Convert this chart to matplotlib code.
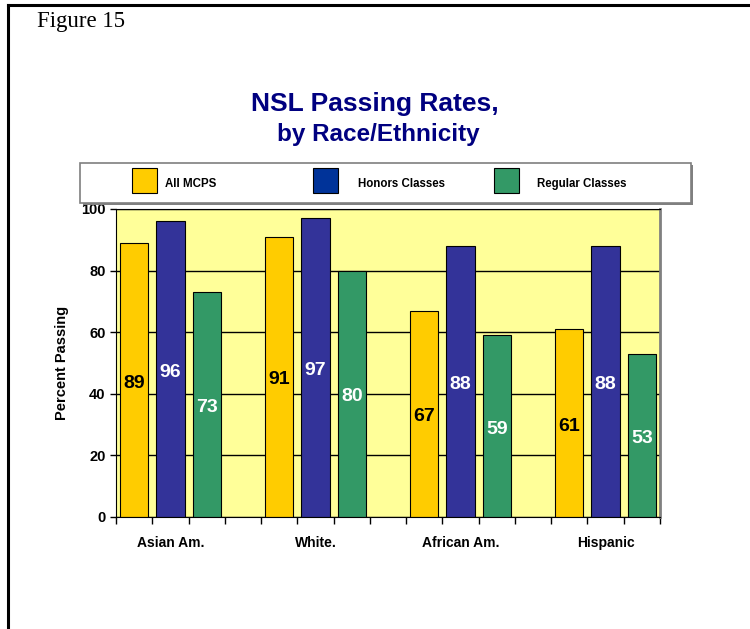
import numpy as np
import matplotlib
matplotlib.use("Agg")
import matplotlib.pyplot as plt
from matplotlib.patches import Rectangle
from matplotlib.lines import Line2D

groups = ["Asian Am.", "White.", "African Am.", "Hispanic"]
series = ["All MCPS", "Honors Classes", "Regular Classes"]
all_mcps = [89, 91, 67, 61]
honors = [96, 97, 88, 88]
regular = [73, 80, 59, 53]

bar_colors = ["#FFCC00", "#333399", "#339966"]
legend_colors = ["#FFCC00", "#003399", "#339966"]
label_colors = ["black", "white", "white"]

W, H = 750, 629
plt.rcParams['font.family'] = ['Liberation Sans', 'DejaVu Sans']
fig = plt.figure(figsize=(W / 100, H / 100), dpi=100)

def fx(px):
    return px / W

def fy(py):
    return 1 - py / H

# outer frame lines (left and top)
fig.add_artist(Line2D([fx(8), fx(8)], [0, fy(5)], color="black", lw=2.2))
fig.add_artist(Line2D([fx(8), 1], [fy(5), fy(5)], color="black", lw=2.2))
fig.text(fx(37), fy(22), "Figure 15", family="Liberation Serif", fontsize=16.5,
         va="center", ha="left")

# titles
fig.text(fx(375), fy(104), "NSL Passing Rates,", fontsize=19, weight="bold",
         color="#000080", ha="center", va="center")
fig.text(fx(378), fy(135), "by Race/Ethnicity", fontsize=17.5, weight="bold",
         color="#000080", ha="center", va="center")

# legend box with shadow
fig.add_artist(Rectangle((fx(83), fy(205)), (693 - 83) / W, (205 - 165) / H,
                         facecolor="#808080", edgecolor="none"))
fig.add_artist(Rectangle((fx(80), fy(203)), (691 - 80) / W, (203 - 163) / H,
                         facecolor="white", edgecolor="#7f7f7f", lw=1.2))
patch_x = [132, 313, 494]
text_x = [165, 358, 537]
for c, px, tx, name in zip(legend_colors, patch_x, text_x, series):
    fig.add_artist(Rectangle((fx(px), fy(193)), 25 / W, 25 / H,
                             facecolor=c, edgecolor="black", lw=0.8))
    fig.text(fx(tx), fy(184), name, fontsize=8.3, weight="bold",
             ha="left", va="center")

# plot area
ax = fig.add_axes([fx(116), fy(517), (660 - 116) / W, (517 - 209) / H])
ax.set_facecolor("#FFFF99")
ax.set_xlim(0, 15)
ax.set_ylim(0, 100)
ax.set_yticks(np.arange(0, 101, 20))
ax.yaxis.grid(True, color="black", lw=1.0)
ax.set_axisbelow(True)
ax.spines["top"].set_color("black")
ax.spines["right"].set_color("#808080")
ax.spines["right"].set_linewidth(2)

values = [all_mcps, honors, regular]
for g in range(len(groups)):
    for k in range(3):
        xc = g * 4 + k + 0.5
        v = values[k][g]
        ax.bar(xc, v, width=0.78, color=bar_colors[k], edgecolor="black", lw=0.8)
        ax.text(xc, v / 2 - 1, str(v), ha="center", va="center", fontsize=14,
                weight="bold", color=label_colors[k])

ax.set_xticks(np.arange(0, 16))
ax.set_xticklabels([])
ax.tick_params(axis="x", direction="out", length=5, width=1)
ax.tick_params(axis="y", direction="out", length=4, width=1, labelsize=10.5)
for lab in ax.get_yticklabels():
    lab.set_fontweight("bold")
for g, name in enumerate(groups):
    ax.text(g * 4 + 1.5, -8.5, name, ha="center", va="center", fontsize=10,
            weight="bold", clip_on=False)
ax.set_ylabel("Percent Passing", fontsize=10.5, weight="bold", labelpad=9)

fig.savefig("out.png", dpi=100)
